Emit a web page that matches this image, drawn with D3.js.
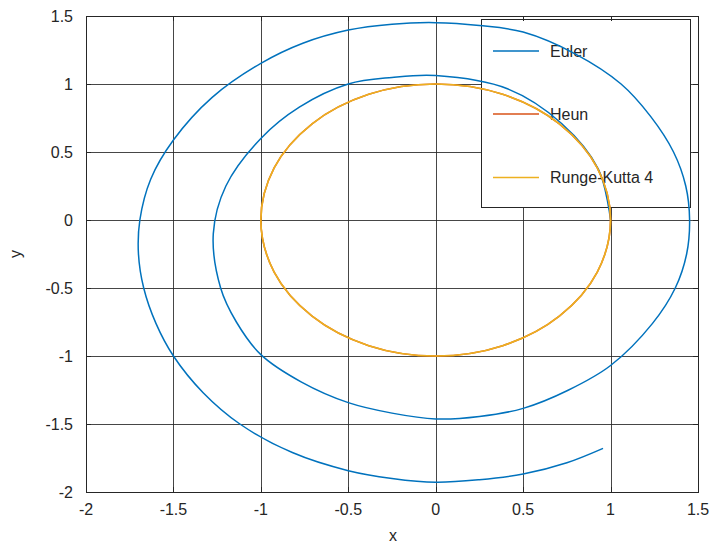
<!DOCTYPE html>
<html lang="en">
<head>
  <meta charset="UTF-8">
  <title>Euler / Heun / Runge-Kutta 4</title>
  <style>
    body { margin: 0; background: #fff; }
    svg { display: block; font-family: 'Liberation Sans', Arial, Helvetica, sans-serif; }
  </style>
</head>
<body>
  <svg id="chart" width="714" height="544"></svg>
  <script src="https://d3js.org/d3.v7.min.js"></script>
  <script>
    // points, counter-clockwise from (1, 0)
    const eulerX = [1.0, 0.93, 0.72, 0.41, 0.0, -0.25, -0.5, -0.78, -1.0, -1.20, -1.272, -1.23, -1.14, -1.0, -0.77, -0.5, -0.25, 0.0, 0.25, 0.5, 0.76, 1.0, 1.24, 1.37, 1.435, 1.452, 1.43, 1.36, 1.23, 1.06, 0.8, 0.5, 0.25, 0.0, -0.25, -0.5, -0.76, -1.0, -1.28, -1.5, -1.63, -1.692, -1.70, -1.67, -1.6, -1.5, -1.33, -1.12, -0.82, -0.5, -0.25, 0.0, 0.25, 0.5, 0.75, 0.957];
    const eulerY = [0.0, 0.375, 0.71, 0.965, 1.062, 1.048, 1.0, 0.83, 0.6, 0.25, -0.1, -0.5, -0.75, -0.99, -1.19, -1.343, -1.42, -1.463, -1.445, -1.385, -1.25, -1.07, -0.76, -0.5, -0.25, 0.0, 0.25, 0.5, 0.76, 1.0, 1.22, 1.382, 1.43, 1.451, 1.44, 1.397, 1.3, 1.152, 0.9, 0.588, 0.3, 0.0, -0.25, -0.5, -0.76, -1.0, -1.27, -1.5, -1.71, -1.843, -1.9, -1.929, -1.91, -1.868, -1.785, -1.679];
    const heunX = [1, 0.924, 0.707, 0.383, 0, -0.383, -0.707, -0.924, -1, -0.924, -0.707, -0.383, 0, 0.383, 0.707, 0.924];
    const heunY = [0, 0.383, 0.707, 0.924, 1, 0.924, 0.707, 0.383, 0, -0.383, -0.707, -0.924, -1, -0.924, -0.707, -0.383];
    const rk4X = [1, 0.924, 0.707, 0.383, 0, -0.383, -0.707, -0.924, -1, -0.924, -0.707, -0.383, 0, 0.383, 0.707, 0.924];
    const rk4Y = [0, 0.383, 0.707, 0.924, 1, 0.924, 0.707, 0.383, 0, -0.383, -0.707, -0.924, -1, -0.924, -0.707, -0.383];
    const xTicks = [-2, -1.5, -1, -0.5, 0, 0.5, 1, 1.5];
    const yTicks = [-2, -1.5, -1, -0.5, 0, 0.5, 1, 1.5];
    const seriesNames = ["Euler", "Heun", "Runge-Kutta 4"];
    const seriesColors = ["#0072bd", "#d95319", "#edb120"];

    const svg = d3.select('#chart');
    const pL = 86, pR = 698, pT = 16, pB = 492;
    const x = d3.scaleLinear().domain([-2, 1.5]).range([pL, pR]);
    const y = d3.scaleLinear().domain([-2, 1.5]).range([pB, pT]);

    // grid
    const grid = svg.append('g').attr('stroke', '#262626').attr('stroke-width', 1).attr('stroke-opacity', 0.85);
    xTicks.forEach(t => grid.append('line')
      .attr('x1', Math.round(x(t)) + 0.5).attr('x2', Math.round(x(t)) + 0.5)
      .attr('y1', pT).attr('y2', pB));
    yTicks.forEach(t => grid.append('line')
      .attr('y1', Math.round(y(t)) + 0.5).attr('y2', Math.round(y(t)) + 0.5)
      .attr('x1', pL).attr('x2', pR));

    // legend box (drawn under the lines, like the original)
    const lg = { x: 481, y: 19.5, w: 209, h: 188 };
    svg.append('rect')
      .attr('x', lg.x + 0.5).attr('y', lg.y).attr('width', lg.w).attr('height', lg.h)
      .attr('fill', '#fff').attr('stroke', '#262626').attr('stroke-width', 1);
    const legendRows = [51, 114, 177.5];
    seriesNames.forEach((name, i) => {
      svg.append('line')
        .attr('x1', 493).attr('x2', 539)
        .attr('y1', legendRows[i]).attr('y2', legendRows[i])
        .attr('stroke', seriesColors[i]).attr('stroke-width', 1.5);
      svg.append('text')
        .attr('x', 550).attr('y', legendRows[i] + 5.5)
        .attr('font-size', 16).attr('fill', '#262626')
        .text(name);
    });

    // series
    const open = d3.line().x(d => x(d[0])).y(d => y(d[1])).curve(d3.curveCatmullRom.alpha(0.5));
    const closed = d3.line().x(d => x(d[0])).y(d => y(d[1])).curve(d3.curveCatmullRomClosed.alpha(0.5));
    const zip = (a, b) => a.map((v, i) => [v, b[i]]);
    svg.append('path').datum(zip(eulerX, eulerY)).attr('d', open)
      .attr('fill', 'none').attr('stroke', seriesColors[0]).attr('stroke-width', 1.5);
    svg.append('path').datum(zip(heunX, heunY)).attr('d', closed)
      .attr('fill', 'none').attr('stroke', seriesColors[1]).attr('stroke-width', 1.6);
    svg.append('path').datum(zip(rk4X, rk4Y)).attr('d', closed)
      .attr('fill', 'none').attr('stroke', seriesColors[2]).attr('stroke-width', 1.6);

    // axes box with inward ticks on all sides
    const ax = svg.append('g').attr('stroke', '#262626').attr('stroke-width', 1);
    ax.append('rect').attr('x', pL + 0.5).attr('y', pT + 0.5)
      .attr('width', pR - pL).attr('height', pB - pT).attr('fill', 'none');
    xTicks.forEach(t => {
      const px = Math.round(x(t)) + 0.5;
      ax.append('line').attr('x1', px).attr('x2', px).attr('y1', pB).attr('y2', pB - 5);
      ax.append('line').attr('x1', px).attr('x2', px).attr('y1', pT).attr('y2', pT + 5);
    });
    yTicks.forEach(t => {
      const py = Math.round(y(t)) + 0.5;
      ax.append('line').attr('y1', py).attr('y2', py).attr('x1', pL).attr('x2', pL + 5);
      ax.append('line').attr('y1', py).attr('y2', py).attr('x1', pR).attr('x2', pR - 5);
    });

    // tick labels
    svg.append('g').selectAll('text').data(xTicks).enter().append('text')
      .attr('x', d => x(d)).attr('y', 515)
      .attr('text-anchor', 'middle').attr('font-size', 16).attr('fill', '#262626')
      .text(d => d);
    svg.append('g').selectAll('text').data(yTicks).enter().append('text')
      .attr('x', 73).attr('y', d => y(d) + 5.5)
      .attr('text-anchor', 'end').attr('font-size', 16).attr('fill', '#262626')
      .text(d => d);

    // axis labels
    svg.append('text').attr('x', 393).attr('y', 541)
      .attr('text-anchor', 'middle').attr('font-size', 16).attr('fill', '#262626').text('x');
    svg.append('text').attr('transform', 'translate(21,254) rotate(-90)')
      .attr('text-anchor', 'middle').attr('font-size', 16).attr('fill', '#262626').text('y');
  </script>
</body>
</html>
